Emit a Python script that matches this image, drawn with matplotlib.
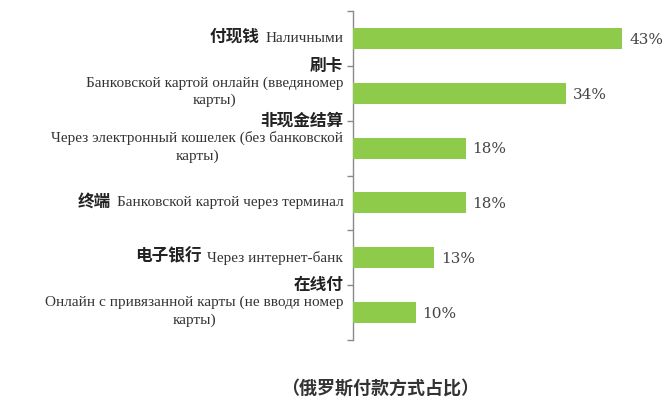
import matplotlib
matplotlib.use("Agg")
import matplotlib.pyplot as plt
import matplotlib.transforms as mtransforms

# data
cn_labels = ["付现钱", "刷卡", "非现金结算", "终端", "电子银行", "在线付"]
ru_labels = [
    "Наличными",
    "Банковской картой онлайн (введяномер\nкарты)",
    "Через электронный кошелек (без банковской\nкарты)",
    "Банковской картой через терминал",
    "Через интернет-банк",
    "Онлайн с привязанной карты (не вводя номер\nкарты)",
]
inline_cn = [True, False, False, True, True, False]
values = [43, 34, 18, 18, 13, 10]
value_text = ["43%", "34%", "18%", "18%", "13%", "10%"]
caption = "（俄罗斯付款方式占比）"

GREEN = "#8fcb4a"
AXIS_GRAY = "#8a8a8a"
CN_FONT = ["Noto Sans CJK SC", "DejaVu Sans"]
RU_FONT = ["Liberation Serif", "DejaVu Serif"]

fig = plt.figure(figsize=(6.68, 4.0), dpi=100)
ax = fig.add_axes([353 / 668, 1 - 340 / 400, 313 / 668, 329 / 400])

y = list(range(len(values)))
ax.barh(y, values, height=0.38, color=GREEN, zorder=3)
ax.set_ylim(len(values) - 0.5, -0.5)
ax.set_xlim(0, 50)

for s in ["top", "right", "bottom"]:
    ax.spines[s].set_visible(False)
ax.spines["left"].set_color(AXIS_GRAY)
ax.spines["left"].set_linewidth(1.0)
ax.set_xticks([])
ax.set_yticks([i - 0.5 for i in range(len(values) + 1)])
ax.set_yticklabels([])
ax.tick_params(axis="y", direction="out", length=4, color=AXIS_GRAY, width=1.0)

# value labels
for yi, v, t in zip(y, values, value_text):
    ax.annotate(t, (v, yi), xytext=(5, -1), textcoords="offset points",
                ha="left", va="center", fontsize=11, color="#444444",
                family=["DejaVu Serif"])

# category labels
tr = mtransforms.blended_transform_factory(ax.transAxes, ax.transData)
for yi, cn, ru, inl in zip(y, cn_labels, ru_labels, inline_cn):
    if inl:
        r = ax.annotate(ru, (0, yi), xycoords=tr, xytext=(-7, 0),
                        textcoords="offset points", ha="right", va="center",
                        fontsize=11, family=RU_FONT, color="#333333")
        fig.canvas.draw()
        w = r.get_window_extent().width * 72 / fig.dpi
        ax.annotate(cn, (0, yi), xycoords=tr, xytext=(-7 - w - 4, 1),
                    textcoords="offset points", ha="right", va="center",
                    fontsize=12, fontweight="bold", family=CN_FONT,
                    color="#222222")
    else:
        ax.annotate(cn, (0, yi - 0.5), xycoords=tr, xytext=(-7, 0),
                    textcoords="offset points", ha="right", va="center",
                    fontsize=12, fontweight="bold", family=CN_FONT,
                    color="#222222")
        ax.annotate(ru, (0, yi - 0.31), xycoords=tr, xytext=(-7, 0),
                    textcoords="offset points", ha="right", va="top",
                    multialignment="center", linespacing=1.4,
                    fontsize=11, family=RU_FONT, color="#333333")

fig.text(380 / 668, 1 - 388 / 400, caption, ha="center", va="center",
         fontsize=13, fontweight="bold", family=CN_FONT, color="#333333")

fig.savefig("out.png", dpi=100)
